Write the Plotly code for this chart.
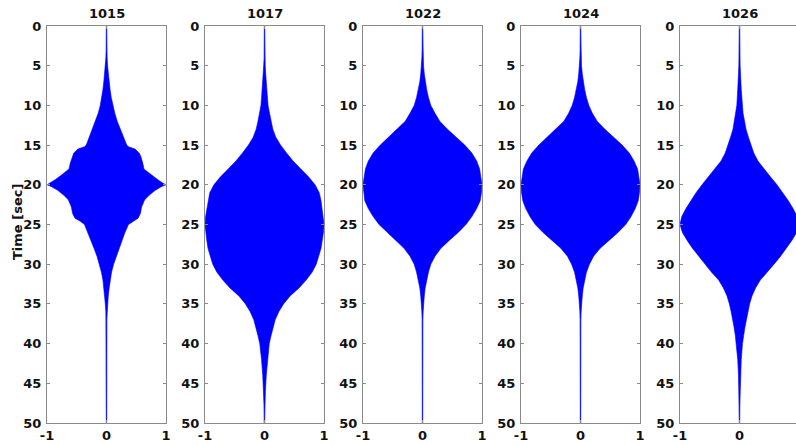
import plotly.graph_objects as go

# ---------------- data ----------------
titles = ["1015", "1017", "1022", "1024", "1026"]

t_1015 = [0, 3, 4, 5, 6, 7, 8, 9, 10, 11, 12, 13, 14, 15, 15.2, 15.5, 16, 16.5, 17.3, 18, 18.2,
          18.8, 19.4, 19.8, 20, 20.2, 20.7, 21.3, 21.9, 22.8, 23.6, 24.2, 24.6, 25, 26, 27, 28, 29,
          30, 31, 32, 33, 34, 35, 36, 37, 50]
amp_1015 = [0, 0.003, 0.01, 0.018, 0.03, 0.045, 0.06, 0.08, 0.105, 0.14, 0.18, 0.235, 0.29, 0.34,
            0.37, 0.48, 0.55, 0.58, 0.61, 0.63, 0.66, 0.76, 0.87, 0.95, 1.0, 0.93, 0.82, 0.72, 0.64,
            0.59, 0.57, 0.53, 0.44, 0.37, 0.31, 0.26, 0.21, 0.16, 0.12, 0.085, 0.06, 0.045, 0.03,
            0.02, 0.01, 0.004, 0]

t_1017 = [0, 4, 5, 6, 7, 8, 9, 10, 11, 12, 13, 14, 15, 16, 17, 18, 19, 20, 21, 22, 23, 24, 25,
          26, 27, 28, 29, 30, 31, 32, 33, 34, 35, 36, 37, 38, 39, 40, 42, 44, 46, 48, 50]
amp_1017 = [0, 0.004, 0.012, 0.02, 0.03, 0.04, 0.05, 0.06, 0.085, 0.11, 0.14, 0.19, 0.27, 0.37,
            0.48, 0.61, 0.74, 0.85, 0.92, 0.95, 0.97, 0.99, 1.0, 0.99, 0.97, 0.95, 0.91, 0.87,
            0.8, 0.7, 0.58, 0.43, 0.32, 0.24, 0.18, 0.14, 0.11, 0.08, 0.05, 0.03, 0.015, 0.006, 0.002]

t_1022 = [0, 3, 4, 5, 6, 7, 8, 9, 10, 11, 12, 13, 14, 15, 16, 17, 18, 19, 20, 21, 22, 23, 24,
          25, 26, 27, 28, 29, 30, 31, 32, 33, 34, 35, 36, 37, 50]
amp_1022 = [0, 0.004, 0.01, 0.017, 0.03, 0.045, 0.07, 0.1, 0.14, 0.21, 0.29, 0.42, 0.57, 0.71,
            0.83, 0.91, 0.96, 0.98, 1.0, 0.99, 0.97, 0.91, 0.83, 0.73, 0.6, 0.45, 0.31, 0.21,
            0.14, 0.1, 0.07, 0.045, 0.03, 0.017, 0.01, 0.004, 0]

t_1024 = [0, 3, 4, 5, 6, 7, 8, 9, 10, 11, 12, 13, 14, 15, 16, 17, 18, 19, 20, 21, 22, 23, 24,
          25, 26, 27, 28, 29, 30, 31, 32, 33, 34, 35, 36, 37, 50]
amp_1024 = [0, 0.004, 0.01, 0.017, 0.03, 0.045, 0.07, 0.1, 0.14, 0.2, 0.28, 0.41, 0.56, 0.7,
            0.82, 0.9, 0.96, 0.98, 1.0, 0.99, 0.97, 0.92, 0.85, 0.76, 0.63, 0.48, 0.33, 0.22,
            0.15, 0.1, 0.07, 0.045, 0.03, 0.017, 0.01, 0.004, 0]

t_1026 = [0, 5, 8, 10, 11, 12, 13, 14, 15, 16, 17, 18, 19, 20, 21, 22, 23, 24, 25, 26, 27, 28,
          29, 30, 31, 32, 33, 34, 35, 36, 37, 38, 39, 40, 42, 44, 46, 48, 50]
amp_1026 = [0, 0.01, 0.03, 0.045, 0.06, 0.085, 0.11, 0.15, 0.19, 0.24, 0.31, 0.41, 0.52, 0.63,
            0.73, 0.82, 0.9, 0.97, 1.0, 0.96, 0.88, 0.79, 0.69, 0.58, 0.47, 0.35, 0.27, 0.21,
            0.17, 0.14, 0.11, 0.09, 0.07, 0.05, 0.03, 0.017, 0.008, 0.003, 0]

series_t = [t_1015, t_1017, t_1022, t_1024, t_1026]
series_amp = [amp_1015, amp_1017, amp_1022, amp_1024, amp_1026]

y_ticks = [0, 5, 10, 15, 20, 25, 30, 35, 40, 45, 50]
x_ticks = [-1, 0, 1]
x_ticklabels = ["-1", "0", "1"]

# ---------------- layout geometry ----------------
W, H = 796, 445
lefts = [47, 205, 363, 521, 680]
pw = 119
top_px, bottom_px = 26, 423
px_per_unit = pw / 2.0

FONT = "DejaVu Sans, Verdana, sans-serif"
TXT = "#111111"
tickfont = dict(family=FONT, size=13, color=TXT, weight="bold")
AXC = "#8a8a8a"

fig = go.Figure()
annotations = []
layout = {}

for i, (title, t, amp) in enumerate(zip(titles, series_t, series_amp)):
    n = "" if i == 0 else str(i + 1)
    xa, ya = "x" + n, "y" + n
    # faint signal baseline
    fig.add_trace(go.Scatter(x=[0] * len(t), y=t, mode="lines",
                             line=dict(color="rgba(40,60,255,0.4)", width=1.8),
                             xaxis=xa, yaxis=ya, showlegend=False, hoverinfo="skip"))
    # filled envelope
    xs = list(amp) + [-a for a in reversed(amp)]
    ys = list(t) + list(reversed(t))
    fig.add_trace(go.Scatter(x=xs, y=ys, mode="lines", fill="toself",
                             fillcolor="#0000ff", line=dict(color="#0000ff", width=0.6),
                             xaxis=xa, yaxis=ya, showlegend=False, hoverinfo="skip"))

    l = lefts[i]
    r = min(l + pw, W)
    xmax = -1 + (r - l) / px_per_unit
    last = (r < l + pw)
    layout["xaxis" + n] = dict(
        domain=[l / W, r / W], range=[-1, xmax], anchor=ya,
        tickvals=x_ticks, ticktext=x_ticklabels, ticks="inside", ticklen=3,
        tickcolor=AXC, showline=True, linecolor=AXC, linewidth=1, mirror="ticks",
        showgrid=False, zeroline=False, tickfont=tickfont, automargin=False,
        ticklabelstandoff=0, fixedrange=True)
    layout["yaxis" + n] = dict(
        domain=[1 - bottom_px / H, 1 - top_px / H], range=[50, 0], anchor=xa,
        tickvals=y_ticks, ticks="inside", ticklen=3, tickcolor=AXC,
        showline=True, linecolor=AXC, linewidth=1, mirror=False if last else "ticks",
        showgrid=False, zeroline=False, tickfont=tickfont, automargin=False,
        ticklabelstandoff=2, fixedrange=True)
    annotations.append(dict(text="<b>%s</b>" % title, x=(l + pw / 2) / W, y=1 - 14 / H,
                            xref="paper", yref="paper", showarrow=False,
                            xanchor="center", yanchor="middle",
                            font=dict(family=FONT, size=13, color=TXT)))

annotations.append(dict(text="<b>Time [sec]</b>", x=17 / W, y=1 - 222 / H,
                        xref="paper", yref="paper", showarrow=False, textangle=-90,
                        xanchor="center", yanchor="middle",
                        font=dict(family=FONT, size=13, color=TXT)))

fig.update_layout(width=W, height=H, margin=dict(l=0, r=0, t=0, b=0, pad=0),
                  paper_bgcolor="white", plot_bgcolor="white",
                  annotations=annotations, **layout)

fig.write_html("out.html", config={"displayModeBar": False},
               post_script="document.body.style.margin='0';document.body.style.padding='0';"
                           "document.body.style.overflow='hidden';")
